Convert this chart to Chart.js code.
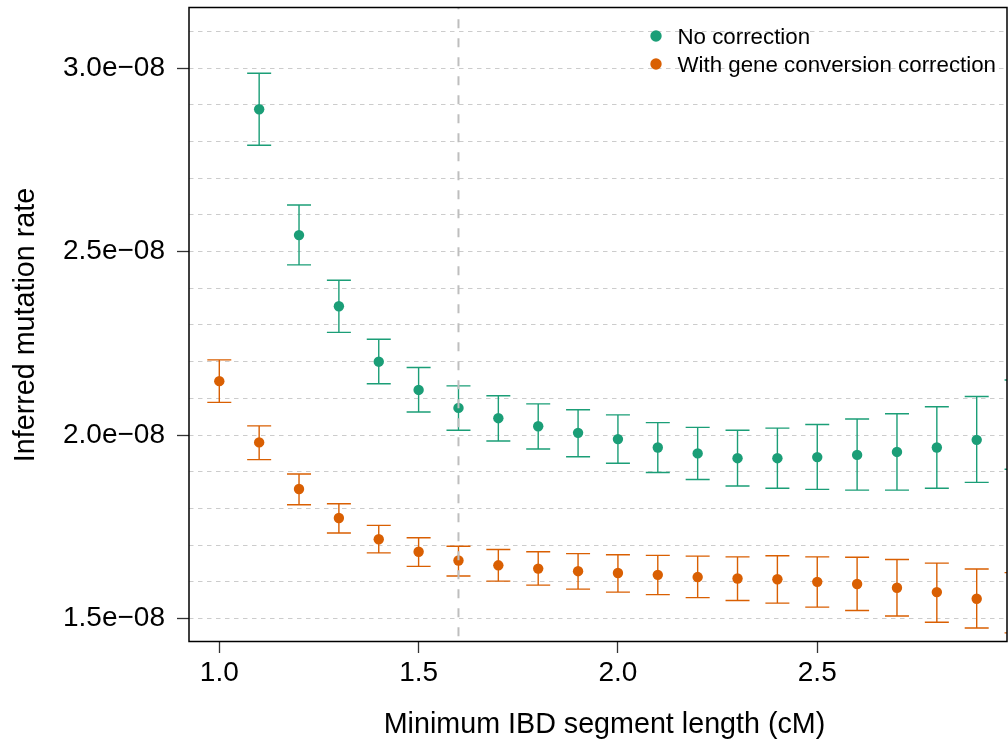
<!DOCTYPE html>
<html><head><meta charset="utf-8">
<script src="https://cdn.jsdelivr.net/npm/chart.js@4.4.1/dist/chart.umd.min.js"></script>
<style>html,body{margin:0;padding:0;background:#fff;overflow:hidden}canvas{display:block}</style>
</head><body>
<canvas id="c" width="1008" height="752"></canvas>
<script>
// ---- data ----
const xValues = [1.0, 1.1, 1.2, 1.3, 1.4, 1.5, 1.6, 1.7, 1.8, 1.9, 2.0, 2.1, 2.2, 2.3, 2.4, 2.5, 2.6, 2.7, 2.8, 2.9, 3.0];
const noCorrMean = [null, 2.888e-8, 2.545e-8, 2.351e-8, 2.200e-8, 2.123e-8, 2.074e-8, 2.046e-8, 2.024e-8, 2.006e-8, 1.989e-8, 1.966e-8, 1.950e-8, 1.937e-8, 1.937e-8, 1.940e-8, 1.946e-8, 1.954e-8, 1.966e-8, 1.987e-8, 2.030e-8];
const noCorrLow  = [null, 2.790e-8, 2.464e-8, 2.280e-8, 2.140e-8, 2.063e-8, 2.013e-8, 1.984e-8, 1.962e-8, 1.941e-8, 1.923e-8, 1.898e-8, 1.879e-8, 1.861e-8, 1.855e-8, 1.852e-8, 1.850e-8, 1.850e-8, 1.855e-8, 1.871e-8, 1.907e-8];
const noCorrHigh = [null, 2.986e-8, 2.627e-8, 2.422e-8, 2.261e-8, 2.184e-8, 2.134e-8, 2.107e-8, 2.085e-8, 2.069e-8, 2.055e-8, 2.034e-8, 2.021e-8, 2.013e-8, 2.019e-8, 2.029e-8, 2.044e-8, 2.058e-8, 2.077e-8, 2.105e-8, 2.150e-8];
const gcMean = [2.147e-8, 1.980e-8, 1.853e-8, 1.774e-8, 1.716e-8, 1.682e-8, 1.658e-8, 1.645e-8, 1.636e-8, 1.629e-8, 1.624e-8, 1.619e-8, 1.613e-8, 1.609e-8, 1.607e-8, 1.600e-8, 1.594e-8, 1.584e-8, 1.572e-8, 1.554e-8, 1.540e-8];
const gcLow  = [2.089e-8, 1.933e-8, 1.810e-8, 1.733e-8, 1.679e-8, 1.642e-8, 1.616e-8, 1.602e-8, 1.591e-8, 1.580e-8, 1.572e-8, 1.565e-8, 1.557e-8, 1.549e-8, 1.542e-8, 1.531e-8, 1.522e-8, 1.507e-8, 1.490e-8, 1.474e-8, 1.461e-8];
const gcHigh = [2.205e-8, 2.025e-8, 1.894e-8, 1.813e-8, 1.754e-8, 1.720e-8, 1.697e-8, 1.688e-8, 1.682e-8, 1.677e-8, 1.674e-8, 1.672e-8, 1.670e-8, 1.668e-8, 1.671e-8, 1.668e-8, 1.667e-8, 1.661e-8, 1.651e-8, 1.635e-8, 1.625e-8];
const seriesNames = ["No correction", "With gene conversion correction"];
const xTickValues = [1.0, 1.5, 2.0, 2.5];
const xTickLabels = ["1.0", "1.5", "2.0", "2.5"];
const yGridValues = [1.5e-8, 1.6e-8, 1.7e-8, 1.8e-8, 1.9e-8, 2.0e-8, 2.1e-8, 2.2e-8, 2.3e-8, 2.4e-8, 2.5e-8, 2.6e-8, 2.7e-8, 2.8e-8, 2.9e-8, 3.0e-8, 3.1e-8];
const yTickValues = [1.5e-8, 2.0e-8, 2.5e-8, 3.0e-8];
const yTickLabels = ["1.5e\u221208", "2.0e\u221208", "2.5e\u221208", "3.0e\u221208"];
const cutoffX = 1.6;
const xRange = [0.924, 2.976];
const yRange = [1.436e-8, 3.164e-8];
const xTitle = "Minimum IBD segment length (cM)";
const yTitle = "Inferred mutation rate";

// ---- style ----
const FAMILY = '"Liberation Sans", Arial, Helvetica, sans-serif';
const TEAL = '#1B9E77', ORANGE = '#D95F02';

function yLabelIndex(v) {
  return yTickValues.findIndex(t => Math.abs(t - v) < 1e-13);
}
function noPad(s) { s.paddingTop = 0; s.paddingBottom = 0; s.paddingLeft = 0; s.paddingRight = 0; }

const errorBarPlugin = {
  id: 'errorBars',
  beforeDatasetsDraw(chart) {
    const {ctx, chartArea: a, scales: {x, y}} = chart;
    ctx.save();
    ctx.beginPath();
    ctx.rect(a.left, a.top, a.right - a.left, a.bottom - a.top);
    ctx.clip();
    chart.data.datasets.forEach(ds => {
      ctx.strokeStyle = ds.backgroundColor;
      ctx.lineWidth = 1.4;
      ds.errLow.forEach((lo, i) => {
        const hi = ds.errHigh[i];
        if (lo == null || hi == null) return;
        const px = x.getPixelForValue(xValues[i]);
        const p1 = y.getPixelForValue(lo), p2 = y.getPixelForValue(hi);
        ctx.beginPath();
        ctx.moveTo(px, p1); ctx.lineTo(px, p2);
        ctx.moveTo(px - 12, p1); ctx.lineTo(px + 12, p1);
        ctx.moveTo(px - 12, p2); ctx.lineTo(px + 12, p2);
        ctx.stroke();
      });
    });
    ctx.restore();
  },
  afterDatasetsDraw(chart) {
    const {ctx, chartArea: a, scales: {x}} = chart;
    ctx.save();
    const cx = x.getPixelForValue(cutoffX);
    ctx.strokeStyle = '#bebebe';
    ctx.lineWidth = 2;
    ctx.setLineDash([9, 10]);
    ctx.lineDashOffset = 7.7;
    ctx.beginPath();
    ctx.moveTo(cx, a.top); ctx.lineTo(cx, a.bottom);
    ctx.stroke();
    ctx.restore();
  },
  afterDraw(chart) {
    const {ctx, chartArea: a, scales: {x}} = chart;
    ctx.save();
    ctx.strokeStyle = '#000';
    ctx.lineWidth = 1.5;
    ctx.strokeRect(a.left, a.top - 0.5, a.right - a.left, a.bottom - a.top);
    ctx.font = '22.3px ' + FAMILY;
    const names = chart.data.datasets.map(d => d.label);
    const maxW = Math.max(...names.map(n => ctx.measureText(n).width));
    const textX = a.right - 11 - maxW;
    names.forEach((n, i) => {
      const cy = a.top + 28 + i * 28;
      ctx.fillStyle = chart.data.datasets[i].backgroundColor;
      ctx.beginPath();
      ctx.arc(textX - 21.5, cy, 5.7, 0, Math.PI * 2);
      ctx.fill();
      ctx.fillStyle = '#000';
      ctx.textAlign = 'left';
      ctx.textBaseline = 'alphabetic';
      ctx.fillText(n, textX, cy + 8.3);
    });
    ctx.font = '28.7px ' + FAMILY;
    ctx.fillStyle = '#000';
    ctx.textAlign = 'center';
    ctx.textBaseline = 'alphabetic';
    ctx.fillText(xTitle, (x.left + x.right) / 2 + 6.5, 733);
    ctx.restore();
  }
};

new Chart(document.getElementById('c'), {
  type: 'scatter',
  data: {
    datasets: [
      { label: seriesNames[0], data: xValues.map((v, i) => ({x: v, y: noCorrMean[i]})),
        errLow: noCorrLow, errHigh: noCorrHigh,
        backgroundColor: TEAL, borderColor: TEAL, pointRadius: 5.2, pointBorderWidth: 0, pointHoverRadius: 5.2 },
      { label: seriesNames[1], data: xValues.map((v, i) => ({x: v, y: gcMean[i]})),
        errLow: gcLow, errHigh: gcHigh,
        backgroundColor: ORANGE, borderColor: ORANGE, pointRadius: 5.2, pointBorderWidth: 0, pointHoverRadius: 5.2 }
    ]
  },
  options: {
    responsive: false,
    animation: false,
    devicePixelRatio: 1,
    layout: { autoPadding: false, padding: { top: 8, right: 1, left: 0, bottom: 0 } },
    plugins: { legend: { display: false }, tooltip: { enabled: false } },
    scales: {
      x: {
        type: 'linear', min: xRange[0], max: xRange[1], bounds: 'data',
        afterFit: s => { s.height = 110; noPad(s); },
        afterBuildTicks: s => { s.ticks = xTickValues.map(v => ({value: v})); },
        ticks: { autoSkip: false, maxRotation: 0, padding: 3, color: '#000',
          font: { family: FAMILY, size: 28 },
          callback: (v, i) => xTickLabels[i] },
        grid: { display: true, drawOnChartArea: false, drawTicks: true, tickLength: 11, tickColor: '#333', tickWidth: 1.3 },
        border: { display: false }
      },
      y: {
        type: 'linear', min: yRange[0], max: yRange[1], bounds: 'data',
        afterFit: s => { s.width = 189; noPad(s); },
        afterBuildTicks: s => { s.ticks = yGridValues.map(v => ({value: v})); },
        ticks: { autoSkip: false, padding: 12, color: '#000',
          font: { family: FAMILY, size: 28 },
          callback: v => { const k = yLabelIndex(v); return k >= 0 ? yTickLabels[k] : ''; } },
        grid: { color: '#cccccc', lineWidth: 1, drawTicks: true, tickLength: 12, tickWidth: 1.3,
          tickColor: c => (c.tick && yLabelIndex(c.tick.value) >= 0) ? '#333' : 'rgba(0,0,0,0)' },
        border: { display: false, dash: [4.5, 4.5] },
        title: { display: true, text: yTitle, color: '#000',
          font: { family: FAMILY, size: 28.7 }, padding: { top: 9, bottom: 0 } }
      }
    }
  },
  plugins: [errorBarPlugin]
});
</script>
</body></html>
